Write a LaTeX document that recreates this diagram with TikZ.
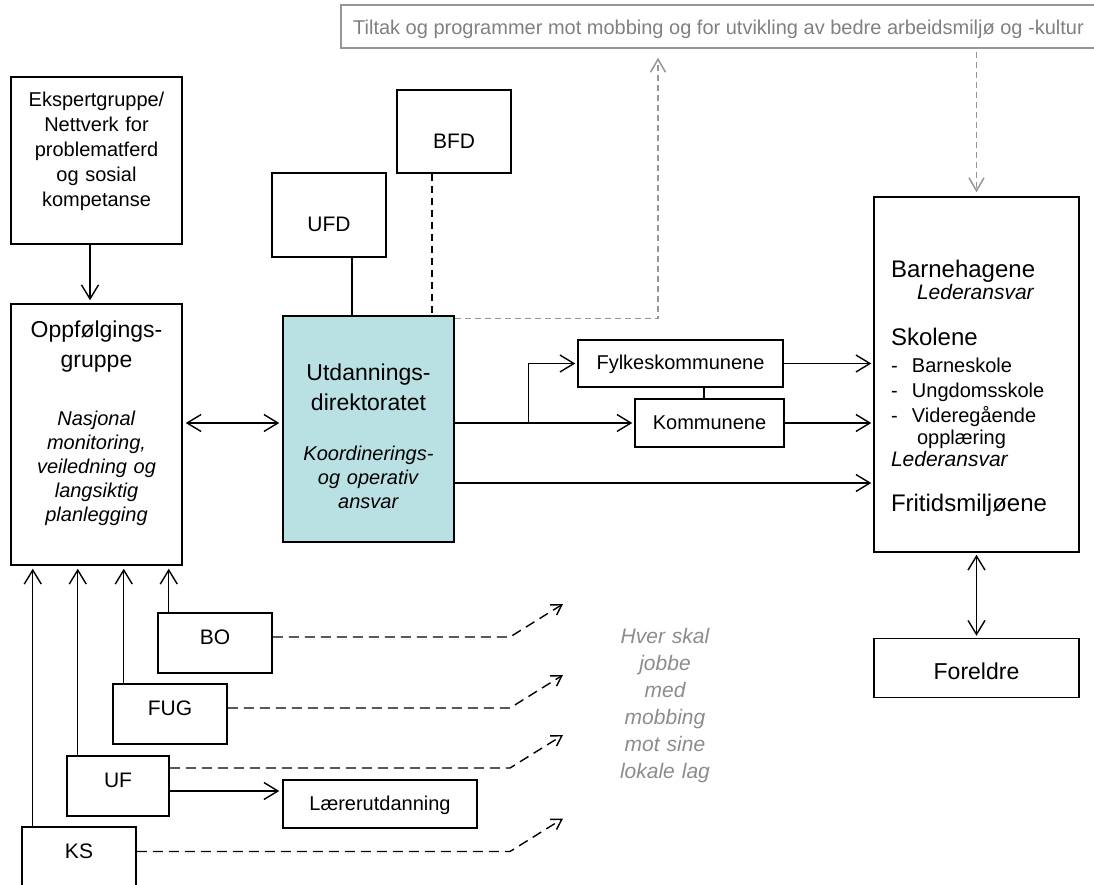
\documentclass[tikz,border=0pt]{standalone}
\usepackage{fontspec}
\setmainfont{Liberation Sans}
\usetikzlibrary{positioning,arrows.meta}

\definecolor{utdblue}{RGB}{185,224,227}
\definecolor{linegray}{RGB}{150,150,150}
\definecolor{textgray}{RGB}{128,128,128}
\definecolor{hvergray}{RGB}{140,140,140}

\newcommand{\nolead}{\normalbaselineskip=0pt\lineskiplimit=-\maxdimen}
\newcommand{\txtL}{\fontsize{24}{0}\selectfont}
\newcommand{\txtM}{\fontsize{23}{0}\selectfont}
\newcommand{\txtS}{\fontsize{21}{0}\selectfont}
\newcommand{\txtXS}{\fontsize{20}{0}\selectfont}

\begin{document}
\begin{tikzpicture}[x=1pt,y=-1pt,
      box/.style={rectangle, draw=black, line width=1.5pt, inner sep=0pt, align=center, font=\txtXS\nolead},
      sz/.style n args={4}{minimum width=#1pt, minimum height=#2pt, text height=#3pt, text depth=#4pt},
      arr/.style={line width=1.4pt, -{Straight Barb[length=14pt,width=17pt]}},
      dblarr/.style={line width=1.4pt, {Straight Barb[length=14pt,width=17pt]}-{Straight Barb[length=14pt,width=17pt]}},
      dasharr/.style={line width=1.4pt, dash pattern=on 10pt off 6pt, -{Straight Barb[length=10pt,width=12pt]}},
      grayarr/.style={line width=1.5pt, draw=linegray, dash pattern=on 6pt off 4pt, -{Straight Barb[length=13pt,width=15pt]}}
      ]
  \useasboundingbox (0,0) rectangle (1094,885);

  % top row
  \node (tiltak) [box, sz={755}{43}{30}{13}, draw=linegray, text=textgray] at (718.5,26.5)
    {Tiltak og programmer mot mobbing og for utvikling av bedre arbeidsmiljø og -kultur};
  \node (eksp) [box, sz={171}{167}{30}{137}, text width=171pt] at (96.5,160.5)
    {Ekspertgruppe/\\[25pt]Nettverk for\\[25pt]problematferd\\[25pt]og sosial\\[25pt]kompetanse};
  \node (ufd) [box, sz={114}{84}{58.5}{25.5}, font=\txtS] at (329,215) {UFD};
  \node (bfd) [box, sz={114}{83}{58.5}{24.5}, font=\txtS] at (454,131.5) {BFD};

  % middle row
  \node (oppf) [box, sz={171}{261}{33}{228}, text width=171pt] at (96.5,434.5)
    {{\txtM Oppfølgings-}\\[30pt]{\txtM gruppe}\\[58pt]\textit{Nasjonal}\\[24pt]\textit{monitoring,}\\[24pt]%
     \textit{veiledning og}\\[24pt]\textit{langsiktig}\\[24pt]\textit{planlegging}};
  \node (utd) [box, fill=utdblue, sz={171}{226}{64}{162}, text width=171pt] at (368.5,429)
    {{\txtM Utdannings-}\\[30pt]{\txtM direktoratet}\\[50pt]\textit{Koordinerings-}\\[24pt]%
     \textit{og operativ}\\[24pt]\textit{ansvar}};
  \node (fyl) [box, sz={205}{47}{29}{18}] at (680.5,363.5) {Fylkeskommunene};
  \node (kom) [box, sz={149}{48}{30}{18}] at (709.5,423) {Kommunene};
  \node (barn) [box, sz={205}{355}{80}{275}, text width=171pt, inner xsep=17pt, align=left] at (976.5,374.5)
    {{\txtL Barnehagene}\\[22pt]
     \hspace*{26pt}{\txtS\itshape Lederansvar}\\[46pt]
     {\txtL Skolene}\\[27pt]
     \makebox[21pt][l]{-}Barneskole\\[25pt]
     \makebox[21pt][l]{-}Ungdomsskole\\[25pt]
     \makebox[21pt][l]{-}Videregående\\[22pt]
     \hspace*{26pt}opplæring\\[22pt]
     {\txtS\itshape Lederansvar}\\[45pt]
     {\txtL Fritidsmiljøene}};
  \node (foreldre) [box, sz={205}{59}{41}{18}, font=\txtM, below=85pt of barn] {Foreldre};

  % bottom row
  \node (bo)  [box, sz={114}{60}{31.5}{28.5}, font=\txtS] at (215,643) {BO};
  \node (fug) [box, sz={114}{60}{31.5}{28.5}, font=\txtS] at (170,714) {FUG};
  \node (uf)  [box, sz={102}{60}{31.5}{28.5}, font=\txtS] at (118,786) {UF};
  \node (ks)  [box, sz={114}{60}{31.5}{28.5}, font=\txtS] at (79,857) {KS};
  \node (laerer) [box, sz={194}{48}{30}{18}] at (380,804) {Lærerutdanning};
  \node (hver) [font=\txtS\nolead\itshape, text=hvergray, text width=130pt, align=center, inner sep=0pt] at (665,706)
    {Hver skal\\[27pt]jobbe\\[27pt]med\\[27pt]mobbing\\[27pt]mot sine\\[27pt]lokale lag};

  % connectors
  \draw[arr, shorten >=3pt] ([xshift=-6.5pt]eksp.south) -- ([xshift=-6.5pt]oppf.north);
  \draw[dblarr, shorten <=3pt, shorten >=3pt] (oppf.east |- kom) -- (utd.west |- kom);
  \draw[line width=1.4pt] ([xshift=23pt]ufd.south) -- ([xshift=23pt]ufd.south |- utd.north);
  \draw[line width=1.4pt, dash pattern=on 7pt off 5pt] ([xshift=-22pt]bfd.south) -- ([xshift=-22pt]bfd.south |- utd.north);
  \draw[grayarr, shorten >=9pt] ([yshift=-3pt]utd.north east) -| ([xshift=-60.5pt]tiltak.south);
  \draw[grayarr, shorten <=3pt, shorten >=4pt] (tiltak.south -| barn) -- (barn.north);
  \draw[arr, shorten >=2pt] (utd.east |- kom) -- (kom.west);
  \draw[arr, shorten >=2pt] ([xshift=74pt]utd.east |- kom) |- (fyl.west);
  \draw[line width=1.4pt] ([xshift=-5.5pt]kom.north) -- ([xshift=-5.5pt]kom.north |- fyl.south);
  \draw[arr, shorten >=2pt] (fyl.east) -- (fyl.east -| barn.west);
  \draw[arr, shorten >=2pt] (kom.east) -- (kom.east -| barn.west);
  \draw[arr, shorten >=2pt] ([yshift=-54pt]utd.east) -- ([yshift=-54pt]utd.east -| barn.west);
  \draw[dblarr, shorten <=2pt, shorten >=2pt] (barn.south) -- (foreldre.north);
  \foreach \n in {bo,fug,uf,ks}
    \draw[arr, shorten >=3pt] ([xshift=11.5pt]\n.north west) -- ([xshift=11.5pt]\n.north west |- oppf.south);
  \coordinate (turn) at (510,0);
  \foreach \n/\s in {bo/6,fug/6,uf/18,ks/5.5}
    \draw[dasharr] ([yshift=\s pt]\n.east) -- ([yshift=\s pt]\n.east -| turn) -- ++(53,-33);
  \draw[arr, shorten >=3pt] ([yshift=-5pt]uf.east) -- ([yshift=-5pt]uf.east -| laerer.west);
\end{tikzpicture}
\end{document}
